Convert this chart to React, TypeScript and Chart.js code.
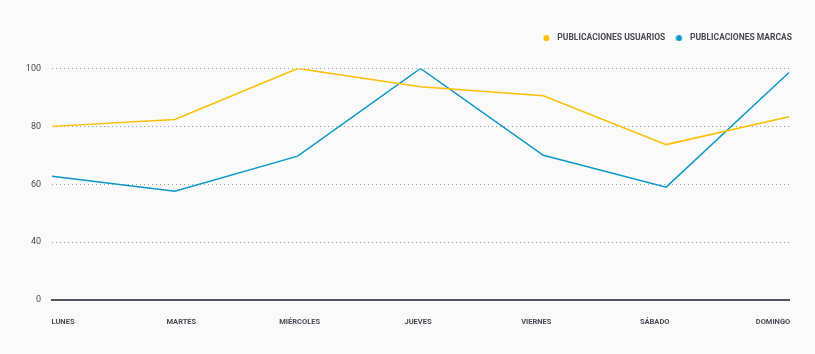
import React, { useEffect, useRef } from "react";
import { Chart, registerables } from "chart.js";

Chart.register(...registerables);

const categories = ["LUNES", "MARTES", "MIÉRCOLES", "JUEVES", "VIERNES", "SÁBADO", "DOMINGO"];
const usuarios = [80, 82.4, 100, 93.7, 90.6, 73.7, 83.3];
const marcas = [62.8, 57.6, 69.7, 100, 70, 59, 98.6];
const yTicks = [20, 40, 60, 80, 100];
const yTickLabels = ["0", "40", "60", "80", "100"];
const ORANGE = "#FFBF00";
const BLUE = "#0B98C8";

function marker(color: string) {
  const c = document.createElement("canvas");
  c.width = 12;
  c.height = 6;
  const g = c.getContext("2d")!;
  g.fillStyle = color;
  g.beginPath();
  g.arc(3.5, 3, 3, 0, Math.PI * 2);
  g.fill();
  return c;
}

export default function App() {
  const ref = useRef<HTMLCanvasElement>(null);
  useEffect(() => {
    document.body.style.background = "#fafafa";
    const chart = new Chart(ref.current!, {
      type: "line",
      data: {
        labels: categories,
        datasets: [
          {
            label: "PUBLICACIONES USUARIOS",
            data: usuarios,
            borderColor: ORANGE,
            backgroundColor: ORANGE,
            borderWidth: 1.5,
            pointRadius: 0,
            pointStyle: marker(ORANGE),
            tension: 0,
          },
          {
            label: "PUBLICACIONES MARCAS",
            data: marcas,
            borderColor: BLUE,
            backgroundColor: BLUE,
            borderWidth: 1.5,
            pointRadius: 0,
            pointStyle: marker(BLUE),
            tension: 0,
          },
        ],
      },
      options: {
        animation: false,
        responsive: true,
        maintainAspectRatio: false,
        layout: { padding: { left: 0, right: 18, top: 14, bottom: 1 } },
        plugins: {
          tooltip: { enabled: false },
          legend: {
            position: "top",
            align: "end",
            labels: {
              usePointStyle: true,
              boxWidth: 8.5,
              boxHeight: 6,
              padding: 12,
              color: "#4a4a55",
              font: { family: "Roboto", size: 8.5, weight: "bold" },
            },
          },
        },
        scales: {
          x: {
            offset: false,
            grid: { display: false, drawTicks: false },
            border: { display: true, color: "#555560", width: 2 },
            afterFit: (s: any) => {
              s.paddingLeft = 0;
              s.paddingRight = 0;
            },
            afterUpdate: (s: any) => {
              const n = categories.length - 1;
              s.getPixelForTick = (i: number) => s.left + 11 + (i * (s.width - 27)) / n;
            },
            ticks: {
              align: "center",
              padding: 18,
              color: "#4a4a55",
              maxRotation: 0,
              font: { family: "Roboto", size: 7.5, weight: "bold" },
            },
          },
          y: {
            min: 20,
            max: 100,
            afterFit: (s: any) => { s.width = 44; },
            afterBuildTicks: (s: any) => { s.ticks = yTicks.map((v) => ({ value: v })); },
            grid: {
              drawTicks: false,
              color: (ctx: any) => (ctx.tick && ctx.tick.value === 20 ? "rgba(0,0,0,0)" : "#9a9a9a"),
              lineWidth: 1,
            },
            border: { display: false, dash: [1, 3] },
            ticks: {
              padding: 11,
              color: "#4a4a55",
              font: { family: "Roboto", size: 9 },
              callback: (v: any) => {
                const i = yTicks.indexOf(Number(v));
                return i >= 0 ? yTickLabels[i] : "";
              },
            },
          },
        },
      },
      plugins: [
        {
          id: "legendGap",
          beforeInit(c: any) {
            const orig = c.legend.fit;
            c.legend.fit = function () {
              orig.bind(c.legend)();
              this.height += 16;
            };
          },
          afterLayout(c: any) {
            c.legend.right += 15;
          },
        },
      ],
    } as any);
    return () => chart.destroy();
  }, []);
  return (
    <div style={{ width: 799, height: 338 }}>
      <canvas ref={ref} />
    </div>
  );
}
